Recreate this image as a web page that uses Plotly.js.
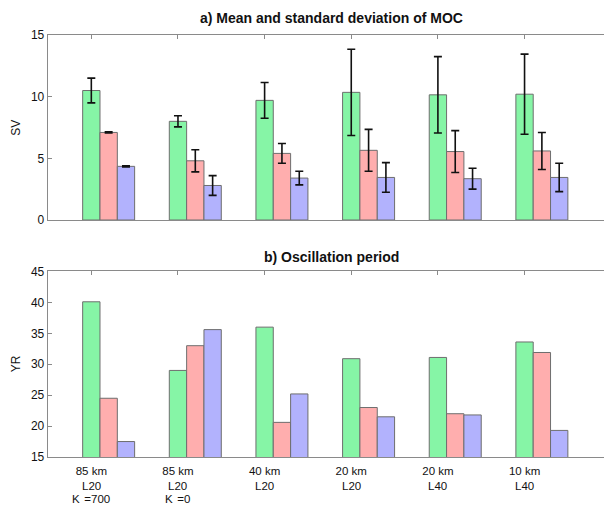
<!DOCTYPE html>
<html>
<head>
<meta charset="utf-8">
<script src="https://cdn.plot.ly/plotly-3.0.1.min.js"></script>
<style>
html,body{margin:0;padding:0;background:#fff;}
#chart{width:604px;height:506px;}
</style>
</head>
<body>
<div id="chart"></div>
<script>
// ---- data ----
const positions = [1, 2, 3, 4, 5, 6];
const categories = ['85 km', '85 km', '40 km', '20 km', '20 km', '10 km'];
const labelRow2 = ['L20', 'L20', 'L20', 'L20', 'L40', 'L40'];
const labelRow3 = ['K\u2009\u2009=700', 'K\u2009\u2009=0', '', '', '', ''];

const mocMeanA = [10.5, 8.0, 9.7, 10.35, 10.15, 10.2];
const mocStdA  = [1.0, 0.45, 1.45, 3.5, 3.1, 3.25];
const mocMeanB = [7.1, 4.8, 5.4, 5.65, 5.55, 5.6];
const mocStdB  = [0.05, 0.9, 0.8, 1.7, 1.7, 1.5];
const mocMeanC = [4.35, 2.8, 3.4, 3.45, 3.35, 3.45];
const mocStdC  = [0.04, 0.8, 0.55, 1.2, 0.85, 1.15];

const periodA = [40.1, 29.0, 36.0, 30.9, 31.1, 33.6];
const periodB = [24.5, 33.0, 20.6, 23.0, 22.0, 31.9];
const periodC = [17.5, 35.6, 25.2, 21.5, 21.8, 19.3];

const titleA = 'a) Mean and standard deviation of MOC';
const titleB = 'b) Oscillation period';
const ylabelA = 'SV';
const ylabelB = 'YR';

// ---- styles ----
const colors = ['#86f5a6', '#ffaeae', '#b2b2fd'];
const edge = '#6e6e6e';
const barW = 0.2;
const offsets = [-0.1, 0.1, 0.3];
const font = 'Liberation Sans, Arial, Helvetica, sans-serif';
const xlabSize = 11.5;

function bar(y, err, i, xa, ya) {
  const t = {
    type: 'bar', x: positions, y: y, xaxis: xa, yaxis: ya,
    width: barW, offset: offsets[i],
    marker: {color: colors[i], line: {color: edge, width: 1}},
    showlegend: false, hoverinfo: 'skip'
  };
  if (err) {
    t.error_y = {type: 'data', array: err, visible: true, color: '#111', thickness: 1.6, width: 4};
  }
  return t;
}

const data = [
  bar(mocMeanA, mocStdA, 0, 'x', 'y'),
  bar(mocMeanB, mocStdB, 1, 'x', 'y'),
  bar(mocMeanC, mocStdC, 2, 'x', 'y'),
  bar(periodA, null, 0, 'x2', 'y2'),
  bar(periodB, null, 1, 'x2', 'y2'),
  bar(periodC, null, 2, 'x2', 'y2')
];

const axisCommon = {
  showgrid: false, zeroline: false, showline: true, linecolor: '#8a8a8a', linewidth: 1.3,
  ticks: 'inside', ticklen: 4, tickcolor: '#8a8a8a', tickwidth: 1,
  tickfont: {family: font, size: 12, color: '#111'}
};

const xRange = [0.5, 6.917];

const layout = {
  width: 604, height: 506,
  margin: {l: 48, r: 0, t: 35, b: 49},
  paper_bgcolor: '#fff', plot_bgcolor: '#fff',
  barmode: 'overlay',
  font: {family: font, color: '#111'},
  xaxis: Object.assign({}, axisCommon, {
    range: xRange, domain: [0, 1], anchor: 'y', mirror: 'ticks',
    tickvals: positions, showticklabels: false, layer: 'below traces'
  }),
  yaxis: Object.assign({}, axisCommon, {
    range: [0, 15], domain: [0.5616, 1], anchor: 'x',
    tickvals: [0, 5, 10, 15]
  }),
  xaxis2: Object.assign({}, axisCommon, {
    range: xRange, domain: [0, 1], anchor: 'y2', mirror: 'ticks',
    tickvals: positions, ticktext: categories, showticklabels: true,
    ticklabelstandoff: 3, layer: 'below traces',
    tickfont: {family: font, size: xlabSize, color: '#111'}
  }),
  yaxis2: Object.assign({}, axisCommon, {
    range: [15, 45], domain: [0, 0.4396], anchor: 'x2',
    tickvals: [15, 20, 25, 30, 35, 40, 45]
  }),
  annotations: []
};

// panel titles
layout.annotations.push({text: '<b>' + titleA + '</b>', xref: 'paper', yref: 'paper',
  x: 0.509, y: 1, yshift: 17, xanchor: 'center', yanchor: 'middle', showarrow: false,
  font: {family: font, size: 14, color: '#111'}});
layout.annotations.push({text: '<b>' + titleB + '</b>', xref: 'paper', yref: 'paper',
  x: 0.509, y: 0.4396, yshift: 14, xanchor: 'center', yanchor: 'middle', showarrow: false,
  font: {family: font, size: 14, color: '#111'}});
// y titles
layout.annotations.push({text: ylabelA, xref: 'paper', yref: 'paper', x: 0, xshift: -32,
  y: 0.78, xanchor: 'center', yanchor: 'middle', textangle: -90, showarrow: false,
  font: {family: font, size: 12, color: '#111'}});
layout.annotations.push({text: ylabelB, xref: 'paper', yref: 'paper', x: 0, xshift: -32,
  y: 0.22, xanchor: 'center', yanchor: 'middle', textangle: -90, showarrow: false,
  font: {family: font, size: 12, color: '#111'}});
// extra tick label rows
positions.forEach(function (p, i) {
  if (labelRow2[i]) layout.annotations.push({text: labelRow2[i], xref: 'x2', yref: 'paper',
    x: p, y: 0, yshift: -29, xanchor: 'center', yanchor: 'middle', showarrow: false,
    borderpad: 0, font: {family: font, size: xlabSize, color: '#111'}});
  if (labelRow3[i]) layout.annotations.push({text: labelRow3[i], xref: 'x2', yref: 'paper',
    x: p, y: 0, yshift: -42, xanchor: 'center', yanchor: 'middle', showarrow: false,
    borderpad: 0, font: {family: font, size: xlabSize, color: '#111'}});
});

Plotly.newPlot('chart', data, layout, {displayModeBar: false, staticPlot: true});
</script>
</body>
</html>
